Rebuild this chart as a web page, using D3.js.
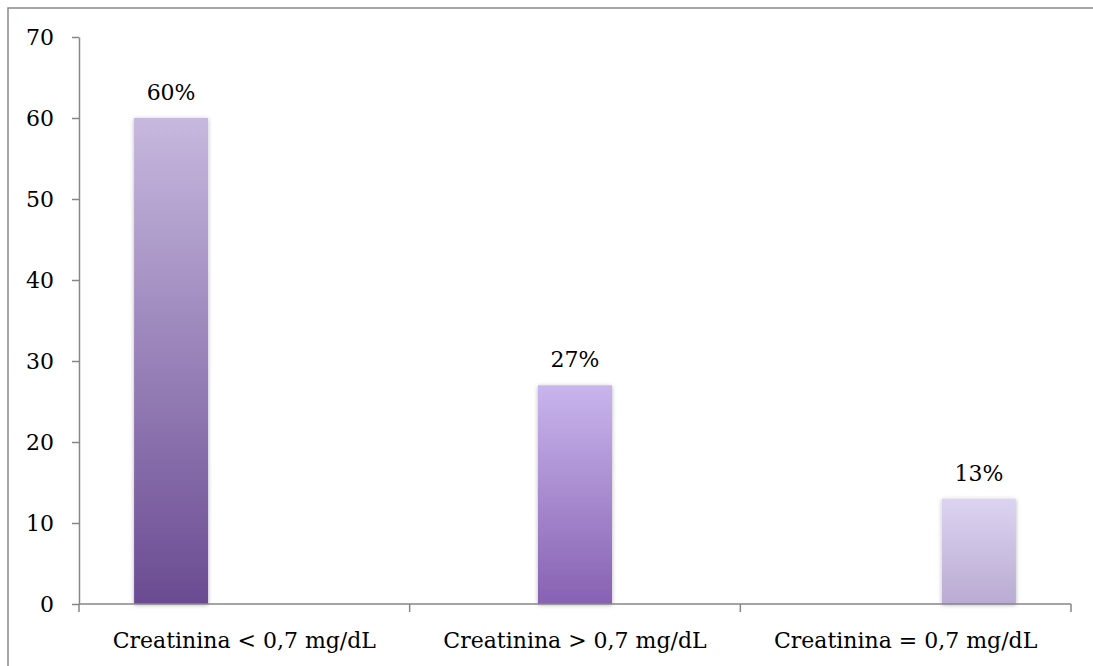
<!DOCTYPE html>
<html>
<head>
<meta charset="utf-8">
<script src="https://cdn.jsdelivr.net/npm/d3@7"></script>
<style>
  html, body { margin: 0; padding: 0; background: #fff; }
  svg { display: block; }
  text { font-family: "DejaVu Serif", "Liberation Serif", serif; fill: #000; }
</style>
</head>
<body>
<svg id="chart" width="1093" height="666"></svg>
<script>
// Share of patients by serum creatinine group
const categories = ["Creatinina < 0,7 mg/dL", "Creatinina > 0,7 mg/dL", "Creatinina = 0,7 mg/dL"];
const values = [60, 27, 13];
const valueLabels = ["60%", "27%", "13%"];
const yTicks = [0, 10, 20, 30, 40, 50, 60, 70];
// gradient stops per bar: [top, bottom]
const barColors = [["#c6b8de", "#6a4b92"], ["#c9b5ed", "#8761b2"], ["#ddd3f1", "#b9abd2"]];

const W = 1093, H = 666;
const plot = { left: 79, right: 1071, top: 37, bottom: 604 };
const fontSize = 22;
const svg = d3.select("#chart");

// outer frame
svg.append("rect")
  .attr("x", 8).attr("y", 8)
  .attr("width", W).attr("height", H)
  .attr("fill", "none").attr("stroke", "#8a8a8a").attr("stroke-width", 1.5);

const y = d3.scaleLinear().domain([0, 70]).range([plot.bottom, plot.top]);
const xBand = d3.scaleBand().domain(categories).range([plot.left, plot.right]);
const xBar = d3.scalePoint().domain(categories).range([plot.left, plot.right]).padding(0.228);
const barW = 74;

const defs = svg.append("defs");
barColors.forEach((c, i) => {
  const g = defs.append("linearGradient")
    .attr("id", "grad" + i).attr("x1", 0).attr("y1", 0).attr("x2", 0).attr("y2", 1);
  g.append("stop").attr("offset", "0%").attr("stop-color", c[0]);
  g.append("stop").attr("offset", "100%").attr("stop-color", c[1]);
});
const shadow = defs.append("filter").attr("id", "shadow")
  .attr("x", "-20%").attr("y", "-5%").attr("width", "140%").attr("height", "110%");
shadow.append("feDropShadow")
  .attr("dx", 0).attr("dy", 1).attr("stdDeviation", 2)
  .attr("flood-color", "#000").attr("flood-opacity", 0.3);

// bars
svg.append("g").selectAll("rect")
  .data(values)
  .join("rect")
  .attr("x", (d, i) => xBar(categories[i]) - barW / 2)
  .attr("y", d => y(d))
  .attr("width", barW)
  .attr("height", d => y(0) - y(d))
  .attr("fill", (d, i) => `url(#grad${i})`)
  .attr("filter", "url(#shadow)");

// value labels
svg.append("g").selectAll("text")
  .data(values)
  .join("text")
  .attr("x", (d, i) => xBar(categories[i]))
  .attr("y", d => y(d) - 18)
  .attr("text-anchor", "middle")
  .attr("font-size", fontSize)
  .text((d, i) => valueLabels[i]);

// y axis
const yAxis = svg.append("g")
  .attr("transform", `translate(${plot.left},0)`)
  .call(d3.axisLeft(y).tickValues(yTicks).tickSize(7).tickSizeOuter(0).tickPadding(18));
yAxis.attr("font-family", null).attr("font-size", null);
yAxis.select(".domain").attr("stroke", "#868686").attr("stroke-width", 1.5);
yAxis.selectAll(".tick line").attr("stroke", "#868686").attr("stroke-width", 1.5);
yAxis.selectAll(".tick text").attr("font-size", fontSize).attr("dy", "0.35em");

// x axis with boundary ticks between categories
const xAxis = svg.append("g").attr("transform", `translate(0,${plot.bottom})`);
xAxis.append("line")
  .attr("x1", plot.left).attr("x2", plot.right)
  .attr("stroke", "#868686").attr("stroke-width", 1.5);
const bounds = categories.map(c => xBand(c)).concat([xBand.range()[1]]);
xAxis.selectAll("line.tick")
  .data(bounds)
  .join("line").attr("class", "tick")
  .attr("x1", d => d).attr("x2", d => d)
  .attr("y1", 0).attr("y2", 8)
  .attr("stroke", "#868686").attr("stroke-width", 1.5);
xAxis.selectAll("text")
  .data(categories)
  .join("text")
  .attr("x", d => xBand(d) + xBand.bandwidth() / 2)
  .attr("y", 44)
  .attr("text-anchor", "middle")
  .attr("font-size", fontSize)
  .text(d => d);
</script>
</body>
</html>
